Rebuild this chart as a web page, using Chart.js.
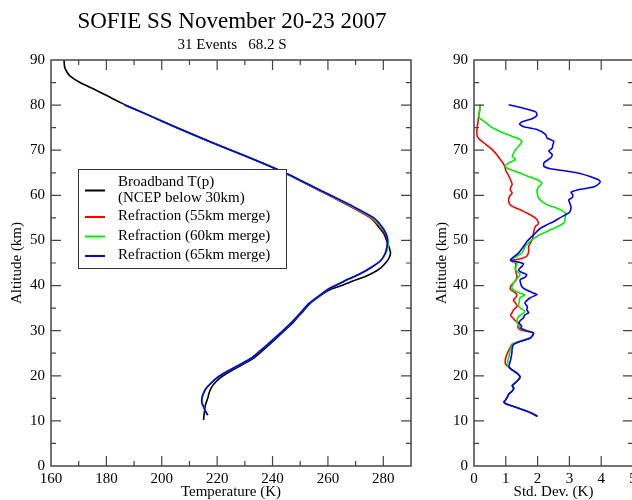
<!DOCTYPE html>
<html><head><meta charset="utf-8">
<script src="https://cdn.jsdelivr.net/npm/chart.js@4"></script>
<style>
html,body{margin:0;padding:0;background:#fff;overflow:hidden;width:632px;height:500px;}
#c1{position:absolute;left:0;top:0;}
#c2{position:absolute;left:420px;top:0;}
</style></head><body>
<canvas id="c1" width="464" height="500"></canvas>
<canvas id="c2" width="260" height="500"></canvas>
<script>
// ---------- DATA (left panel: temperature vs altitude) ----------
const bbAlt = [90, 88.5, 87.5, 86.5, 85, 83.5, 82, 80.5, 78, 75, 72, 70, 67.5, 65, 62.5, 60, 57.5, 55, 53, 51.5, 50, 48.5, 47.2, 46, 45, 44, 43, 42, 41, 40, 39, 38, 36, 34, 32, 30, 28, 26, 24, 22.5, 21, 19.5, 18, 17, 16, 15, 14, 13, 12, 11, 10.2];
const bbTemp = [164.7, 164.9, 165.6, 166.8, 170.5, 175.6, 180.5, 185.3, 194.4, 205.5, 217, 225, 235, 244.3, 252.3, 260.5, 268.4, 275.6, 278.3, 280.2, 281.2, 282.1, 282.6, 282, 280.8, 279.2, 276.8, 273.5, 269, 265, 260.5, 257.8, 253.5, 250.6, 247.7, 244.3, 240.8, 237.2, 233.4, 229.2, 224.8, 221, 218.6, 217.6, 217, 216.6, 216, 215.6, 215.4, 215.2, 215.1];
const rfAlt = [80, 78, 75, 72, 70, 67.5, 65, 62.5, 60, 57.5, 55, 53, 51.5, 50, 48.5, 47, 45.5, 44, 42.5, 41, 39.5, 38, 36, 34, 32, 30, 28, 26, 24, 22.5, 21, 19.5, 18, 17, 16, 15, 14, 13, 12, 11.3];
const rf55Temp = [186.6, 194.4, 205.5, 217, 225, 235, 244.3, 252.4, 260.4, 268.1, 275.3, 278.8, 280.7, 281.5, 281.3, 280.6, 279, 275.6, 271.3, 266, 261, 257.4, 253.1, 250.2, 247.2, 243.8, 240.2, 236.5, 232.6, 228.3, 223.7, 219.8, 217.2, 215.8, 215, 214.5, 214.5, 215.2, 215.9, 216.6];
const rf60Temp = [186.6, 194.4, 205.5, 217, 225, 235, 244.4, 252.6, 260.8, 268.7, 276, 279.2, 281, 281.8, 281.7, 280.8, 279, 275.6, 271.3, 266, 261, 257.4, 253.1, 250.2, 247.2, 243.8, 240.2, 236.5, 232.6, 228.3, 223.7, 219.8, 217.2, 215.8, 215, 214.5, 214.5, 215.2, 215.9, 216.6];
const rf65Temp = [186.6, 194.4, 205.5, 217, 225, 235, 244.5, 252.8, 261, 269.2, 276.6, 279.6, 281, 281.5, 281.3, 280.6, 279, 275.6, 271.3, 266, 261, 257.4, 253.1, 250.2, 247.2, 243.8, 240.2, 236.5, 232.6, 228.3, 223.7, 219.8, 217.2, 215.8, 215, 214.5, 214.5, 215.2, 215.9, 216.6];

// ---------- DATA (right panel: std. dev. vs altitude, [altitude, K]) ----------
const sd55 = [[80.1,0.19],[79,0.18],[78,0.16],[77.2,0.14],[76,0.12],[75,0.1],[74,0.09],[73.1,0.1],[72.3,0.19],[71.4,0.35],[70.5,0.51],[69.8,0.62],[69,0.72],[68.2,0.8],[67.5,0.88],[66.8,0.94],[66.1,0.98],[65.5,1.0],[65,1.04],[64.2,1.1],[63.5,1.14],[62.9,1.18],[62.4,1.2],[61.8,1.16],[61.2,1.14],[60.8,1.18],[60.5,1.2],[59.8,1.12],[59,1.09],[58.4,1.1],[57.9,1.14],[57.3,1.28],[56.8,1.46],[56.2,1.62],[55.7,1.77],[55.1,1.9],[54.6,1.98],[53.9,2.03],[53.5,2.0],[53.1,1.93],[52,1.88],[51,1.86],[50.5,1.85],[49.5,1.78],[48.7,1.72],[47.5,1.72],[46.5,1.66],[46,1.5],[45.6,1.2],[45.5,1.15],[45.2,1.25],[44.8,1.32],[43.9,1.3],[43,1.32],[42,1.35],[41,1.3],[40.3,1.2],[39.8,1.15],[39.1,1.15],[38.5,1.28],[38,1.35],[37.5,1.33],[36.8,1.24],[36,1.32],[35.4,1.36],[34.6,1.24],[34,1.2],[33.5,1.15],[33,1.2],[32.7,1.24],[32.2,1.3],[31.7,1.4],[30.8,1.38],[30.2,1.45],[29.5,1.85],[29,1.85],[28.3,1.75],[27.6,1.42],[27,1.2],[26,1.12],[25,1.05],[24,1.0],[23,0.98],[22.5,1.0],[22,1.08],[21.3,1.2],[20.6,1.35],[20,1.43],[19.7,1.45],[19,1.38],[18.4,1.29],[17.8,1.2],[17.2,1.25],[16.5,1.19],[16,1.1],[15.3,1.05],[14.6,0.99],[14.2,0.94],[13.8,1.0],[13.2,1.25],[12.3,1.6],[11.6,1.85],[11,2.0]];
const sd60 = [[80.1,0.19],[79,0.18],[78,0.16],[77.2,0.16],[76.5,0.3],[75.9,0.4],[75.3,0.51],[74.5,0.72],[73.8,0.93],[73.2,1.15],[72.7,1.35],[72,1.51],[71.5,1.47],[70.9,1.41],[70.2,1.32],[69.4,1.25],[68.6,1.2],[68.2,1.28],[67.9,1.3],[67.5,1.2],[67.2,1.09],[66.5,0.98],[66,1.05],[65.7,1.14],[65.2,1.35],[64.6,1.56],[64,1.78],[63.5,1.98],[62.7,2.14],[62.3,2.1],[61.9,2.03],[60.9,1.98],[60.2,2.0],[59.4,2.03],[58.6,2.15],[57.9,2.3],[57.3,2.55],[56.8,2.72],[56.1,2.88],[55.2,2.87],[54.5,2.86],[53.9,2.83],[53.3,2.7],[52.7,2.51],[52,2.3],[51.3,2.09],[50.5,1.9],[49.7,1.75],[48.7,1.61],[47.2,1.51],[46.3,1.3],[45.6,1.15],[45.2,1.28],[45,1.36],[44.3,1.33],[43.5,1.3],[42.9,1.4],[42.4,1.45],[41.5,1.35],[40.5,1.24],[39.4,1.19],[38.8,1.3],[38.3,1.45],[37.9,1.6],[37.3,1.45],[36.4,1.42],[35.4,1.4],[34.8,1.5],[34.3,1.6],[33.6,1.5],[33.1,1.4],[32.3,1.35],[31.7,1.36],[31,1.42],[30.6,1.45],[30,1.65],[29.5,1.85],[29,1.85],[28.3,1.75],[27.6,1.42],[27,1.22],[26,1.15],[25,1.12],[23.5,1.07],[22.5,1.05],[22,1.08],[21.3,1.2],[20.6,1.35],[20,1.43],[19.7,1.45],[19,1.38],[18.4,1.29],[17.8,1.2],[17.2,1.25],[16.5,1.19],[16,1.1],[15.3,1.05],[14.6,0.99],[14.2,0.94],[13.8,1.0],[13.2,1.25],[12.3,1.6],[11.6,1.85],[11,2.0]];
const sd65 = [[80.1,1.09],[79.4,1.51],[78.5,1.94],[77.7,1.98],[77,1.83],[76.3,1.51],[75.8,1.43],[75.2,1.56],[74.6,1.98],[73.5,2.25],[72.7,2.3],[72,2.51],[71.2,2.48],[70.5,2.46],[69.8,2.35],[69,2.46],[68.3,2.41],[67.2,2.2],[66.4,2.2],[65.9,2.4],[65.4,2.9],[64.9,3.3],[64.2,3.65],[63.5,3.9],[63,3.97],[62.4,3.9],[61.9,3.78],[61.5,3.5],[61.2,3.25],[60.7,3.05],[60.2,3.1],[59.6,3.1],[59,2.98],[58.5,3.0],[57.5,3.05],[56.8,3.04],[56.2,3.0],[55.7,2.88],[55,2.7],[54.2,2.51],[53.5,2.3],[52.7,2.09],[51.3,1.88],[49.8,1.67],[48.7,1.56],[47.2,1.4],[46.1,1.2],[45.6,1.15],[45.3,1.35],[44.8,1.56],[44.2,1.5],[43.5,1.4],[42.9,1.5],[42.4,1.66],[41.8,1.6],[41.3,1.45],[39.8,1.5],[39,1.65],[38.3,1.88],[38,1.98],[37.3,1.77],[36.6,1.65],[36.1,1.6],[35.3,1.68],[34.6,1.66],[34,1.72],[33.5,1.6],[32.8,1.55],[32.2,1.45],[31.7,1.42],[31,1.5],[30.6,1.47],[30,1.65],[29.5,1.88],[29,1.85],[28.3,1.77],[27.6,1.45],[26.9,1.24],[26,1.2],[25,1.19],[23.5,1.15],[22,1.1],[21.3,1.2],[20.6,1.35],[20,1.43],[19.7,1.45],[19,1.38],[18.4,1.29],[17.8,1.2],[17.2,1.25],[16.5,1.19],[16,1.1],[15.3,1.05],[14.6,0.99],[14.2,0.94],[13.8,1.0],[13.2,1.25],[12.3,1.6],[11.6,1.85],[11,2.0]];

const legendLines = ['Broadband T(p)', '(NCEP below 30km)', 'Refraction (55km merge)', 'Refraction (60km merge)', 'Refraction (65km merge)'];
const colors = {bb:'#000000', r55:'#ff0000', r60:'#00ee00', r65:'#0000ff'};

// ---------- helpers ----------
const SERIF = '"Liberation Serif", "Times New Roman", serif';
Chart.defaults.font.family = SERIF;
Chart.defaults.color = '#000';
function pts(alt, vals) { return alt.map((a, i) => ({x: vals[i], y: a})); }
function pairPts(arr) { return arr.map(p => ({x: p[1], y: p[0]})); }

const frameTicks = {
  id: 'frameTicks',
  afterDatasetsDraw(chart, args, opts) {
    const {ctx, chartArea: a} = chart;
    const xs = chart.scales.x, ys = chart.scales.y;
    ctx.save();
    ctx.strokeStyle = '#444';
    ctx.lineWidth = 1.2;
    ctx.beginPath();
    xs.ticks.forEach(t => {
      const p = xs.getPixelForValue(t.value);
      if (p <= a.left + 1 || p >= a.right - 1) return;
      const L = (Math.abs(t.value % opts.xMajor) < 1e-9) ? 10 : 5;
      ctx.moveTo(p, a.bottom); ctx.lineTo(p, a.bottom - L);
      ctx.moveTo(p, a.top); ctx.lineTo(p, a.top + L);
    });
    ys.ticks.forEach(t => {
      const p = ys.getPixelForValue(t.value);
      if (p <= a.top + 1 || p >= a.bottom - 1) return;
      const L = (Math.abs(t.value % opts.yMajor) < 1e-9) ? 10 : 5;
      ctx.moveTo(a.left, p); ctx.lineTo(a.left + L, p);
      ctx.moveTo(a.right, p); ctx.lineTo(a.right - L, p);
    });
    ctx.stroke();
    ctx.lineWidth = 1.5;
    ctx.strokeRect(a.left, a.top, a.right - a.left, a.bottom - a.top);
    ctx.restore();
  }
};

const legendBox = {
  id: 'legendBox',
  afterDraw(chart) {
    const ctx = chart.ctx;
    const ds = chart.data.datasets;
    ctx.save();
    ctx.fillStyle = '#fff';
    ctx.fillRect(78, 169, 208, 99);
    ctx.strokeStyle = '#333';
    ctx.lineWidth = 1;
    ctx.strokeRect(78.5, 169.5, 208, 99);
    ctx.font = '15px ' + SERIF;
    ctx.textBaseline = 'middle';
    ctx.textAlign = 'left';
    ctx.fillStyle = '#000';
    const rows = [
      {color: ds[0].borderColor, lineY: 190.5, text: [[legendLines[0], 182], [legendLines[1], 198]]},
      {color: ds[1].borderColor, lineY: 217, text: [[legendLines[2], 216.5]]},
      {color: ds[2].borderColor, lineY: 236.5, text: [[legendLines[3], 236]]},
      {color: ds[3].borderColor, lineY: 256, text: [[legendLines[4], 255.5]]}
    ];
    rows.forEach(r => {
      ctx.strokeStyle = r.color; ctx.lineWidth = 2;
      ctx.beginPath(); ctx.moveTo(85, r.lineY); ctx.lineTo(105, r.lineY); ctx.stroke();
      r.text.forEach(([s, y]) => ctx.fillText(s, 118, y));
    });
    ctx.restore();
  }
};

const lineDs = (label, data, color, order) => ({
  label, data, borderColor: color, backgroundColor: color, showLine: true,
  pointRadius: 0, pointHoverRadius: 0, borderWidth: 1.6, tension: 0.2, fill: false, order
});

const hidden = {grid: {display: false, drawTicks: false}, border: {display: false}};

// ---------- LEFT CHART ----------
new Chart(document.getElementById('c1'), {
  type: 'scatter',
  data: {datasets: [
    lineDs('Broadband T(p) (NCEP below 30km)', pts(bbAlt, bbTemp), colors.bb, 3),
    lineDs('Refraction (55km merge)', pts(rfAlt, rf55Temp), colors.r55, 2),
    lineDs('Refraction (60km merge)', pts(rfAlt, rf60Temp), colors.r60, 1),
    lineDs('Refraction (65km merge)', pts(rfAlt, rf65Temp), colors.r65, 0)
  ]},
  options: {
    responsive: false, animation: false,
    layout: {padding: 0},
    plugins: {
      legend: {display: false}, tooltip: {enabled: false},
      title: {display: true, text: 'SOFIE SS November 20-23 2007', color: '#000',
              font: {size: 23, weight: 'normal', lineHeight: 1}, padding: {top: 10, bottom: 3}},
      subtitle: {display: true, text: '31 Events   68.2 S', color: '#000',
              font: {size: 15, weight: 'normal', lineHeight: 1}, padding: {top: 2, bottom: 7}},
      frameTicks: {xMajor: 20, yMajor: 10}
    },
    scales: {
      x: {type: 'linear', position: 'bottom', min: 160, max: 290, ...hidden,
          ticks: {stepSize: 10, autoSkip: false, maxRotation: 0, padding: 4, color: '#000', font: {size: 15},
                  callback: v => (v % 20 === 0 && v < 290) ? String(v) : ''},
          title: {display: true, text: 'Temperature (K)', color: '#000', font: {size: 15, lineHeight: 1}, padding: {top: 0, bottom: 0}},
          afterFit: s => { s.height = 34; }},
      y: {type: 'linear', position: 'left', min: 0, max: 90, ...hidden,
          ticks: {stepSize: 5, autoSkip: false, padding: 6, color: '#000', font: {size: 15},
                  callback: v => (v % 10 === 0) ? String(v) : ''},
          title: {display: true, text: 'Altitude (km)', color: '#000', font: {size: 15, lineHeight: 1}, padding: {top: 10, bottom: 0}},
          afterFit: s => { s.width = 51; }},
      yR: {type: 'linear', position: 'right', min: 0, max: 90, display: true, ...hidden,
           ticks: {display: false}, afterFit: s => { s.width = 53; }}
    }
  },
  plugins: [frameTicks, legendBox]
});

// ---------- RIGHT CHART ----------
new Chart(document.getElementById('c2'), {
  type: 'scatter',
  data: {datasets: [
    lineDs('Refraction (55km merge)', pairPts(sd55), colors.r55, 2),
    lineDs('Refraction (60km merge)', pairPts(sd60), colors.r60, 1),
    lineDs('Refraction (65km merge)', pairPts(sd65), colors.r65, 0)
  ]},
  options: {
    responsive: false, animation: false,
    layout: {padding: {top: 60, right: 47, left: 0, bottom: 0}},
    plugins: {legend: {display: false}, tooltip: {enabled: false}, frameTicks: {xMajor: 1, yMajor: 10}},
    scales: {
      x: {type: 'linear', position: 'bottom', min: 0, max: 5, ...hidden,
          ticks: {stepSize: 1, autoSkip: false, maxRotation: 0, padding: 4, color: '#000', font: {size: 15}},
          title: {display: true, text: 'Std. Dev. (K)', color: '#000', font: {size: 15, lineHeight: 1}, padding: {top: 0, bottom: 0}},
          afterFit: s => { s.height = 34; }},
      y: {type: 'linear', position: 'left', min: 0, max: 90, ...hidden,
          ticks: {stepSize: 5, autoSkip: false, padding: 6, color: '#000', font: {size: 15},
                  callback: v => (v % 10 === 0) ? String(v) : ''},
          title: {display: true, text: 'Altitude (km)', color: '#000', font: {size: 15, lineHeight: 1}, padding: {top: 14.5, bottom: 0}},
          afterFit: s => { s.width = 54; }}
    }
  },
  plugins: [frameTicks]
});
</script></body></html>
